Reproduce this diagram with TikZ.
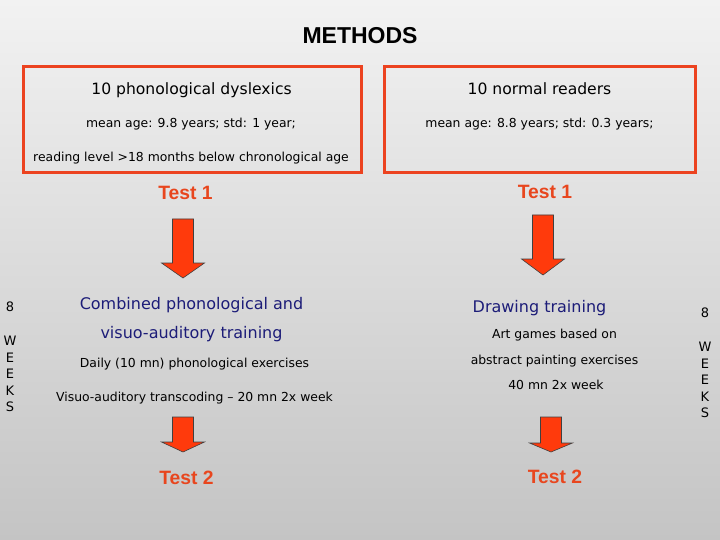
\documentclass[tikz,border=0pt]{standalone}
\usepackage{fontspec}
\setmainfont{DejaVu Sans}
\newfontfamily\arialf{Liberation Sans}
\definecolor{boxred}{HTML}{EC4320}
\definecolor{testred}{HTML}{E8461E}
\definecolor{arrowred}{HTML}{FF3A0C}
\definecolor{navyblue}{HTML}{1C1C78}
\definecolor{bgtop}{HTML}{F2F2F2}
\definecolor{bgbot}{HTML}{C4C4C4}
\newcommand\bkarrow[4]{%
  \filldraw[fill=arrowred, draw=black!75, line width=0.6pt]
    (#1-10.5,#2) -- (#1+10.5,#2) -- (#1+10.5,#3) -- (#1+21.5,#3) -- (#1,#4)
    -- (#1-21.5,#3) -- (#1-10.5,#3) -- cycle;}
\begin{document}
\begin{tikzpicture}[x=1pt,y=-1pt,
  every node/.style={inner sep=0pt, text height=0.75em, text depth=0.25em},
  titletxt/.style={font=\arialf\bfseries\fontsize{23}{26}\selectfont, yshift=-4.5pt},
  headtxt/.style={font=\fontsize{15.6}{18}\selectfont, yshift=-3pt},
  smalltxt/.style={font=\fontsize{12.4}{15}\selectfont, yshift=-2pt},
  testtxt/.style={font=\arialf\bfseries\fontsize{19.3}{22}\selectfont, text=testred, yshift=-4.5pt},
  traintxt/.style={font=\fontsize{16}{19}\selectfont, text=navyblue, yshift=-3.5pt},
  weektxt/.style={font=\fontsize{13}{16.5}\selectfont, align=center, text height=, text depth=, yshift=-1pt},
  groupbox/.style={draw=boxred, line width=3pt}]
\shade[top color=bgtop, bottom color=bgbot] (0,0) rectangle (720,540);
\useasboundingbox (0,0) rectangle (720,540);

\node[titletxt] (title) at (360,37) {METHODS};

\draw[groupbox] (23.5,66.5) rectangle (361.5,172.5);
\draw[groupbox] (384.5,66.5) rectangle (695.5,172.5);

\node[headtxt] (dys) at (191.5,89) {10 phonological dyslexics};
\node[smalltxt] (dysage) at (191,123) {mean age: 9.8 years; std: 1 year;};
\node[smalltxt] (dysread) at (191,157) {reading level >18 months below chronological age};
\node[headtxt] (norm) at (539.5,89) {10 normal readers};
\node[smalltxt] (normage) at (539.5,123) {mean age: 8.8 years; std: 0.3 years;};

\node[testtxt] (t1l) at (185.5,193) {Test 1};
\node[testtxt] (t1r) at (545,192) {Test 1};

\bkarrow{183}{219}{263}{278}
\bkarrow{543}{215}{259}{275}

\node[traintxt] (combA) at (191.5,303) {Combined phonological and};
\node[traintxt] (combB) at (191.5,332) {visuo-auditory training};
\node[smalltxt] (daily) at (194.5,363) {Daily (10 mn) phonological exercises};
\node[smalltxt] (visuo) at (194.5,397) {Visuo-auditory transcoding – 20 mn 2x week};

\node[traintxt] (draw) at (539.5,306) {Drawing training};
\node[smalltxt] (art) at (554.5,334) {Art games based on};
\node[smalltxt] (abstr) at (554.5,360) {abstract painting exercises};
\node[smalltxt] (forty) at (556,385) {40 mn 2x week};

\node[weektxt] (eightl) at (10,306) {8};
\node[weektxt] (weeksl) at (10,373) {W\\E\\E\\K\\S};
\node[weektxt] (eightr) at (705,312) {8};
\node[weektxt] (weeksr) at (705,379) {W\\E\\E\\K\\S};

\bkarrow{183}{417}{442}{452}
\bkarrow{551}{417}{443}{452}

\node[testtxt] (t2l) at (186.5,477) {Test 2};
\node[testtxt] (t2r) at (555,476) {Test 2};
\end{tikzpicture}
\end{document}
